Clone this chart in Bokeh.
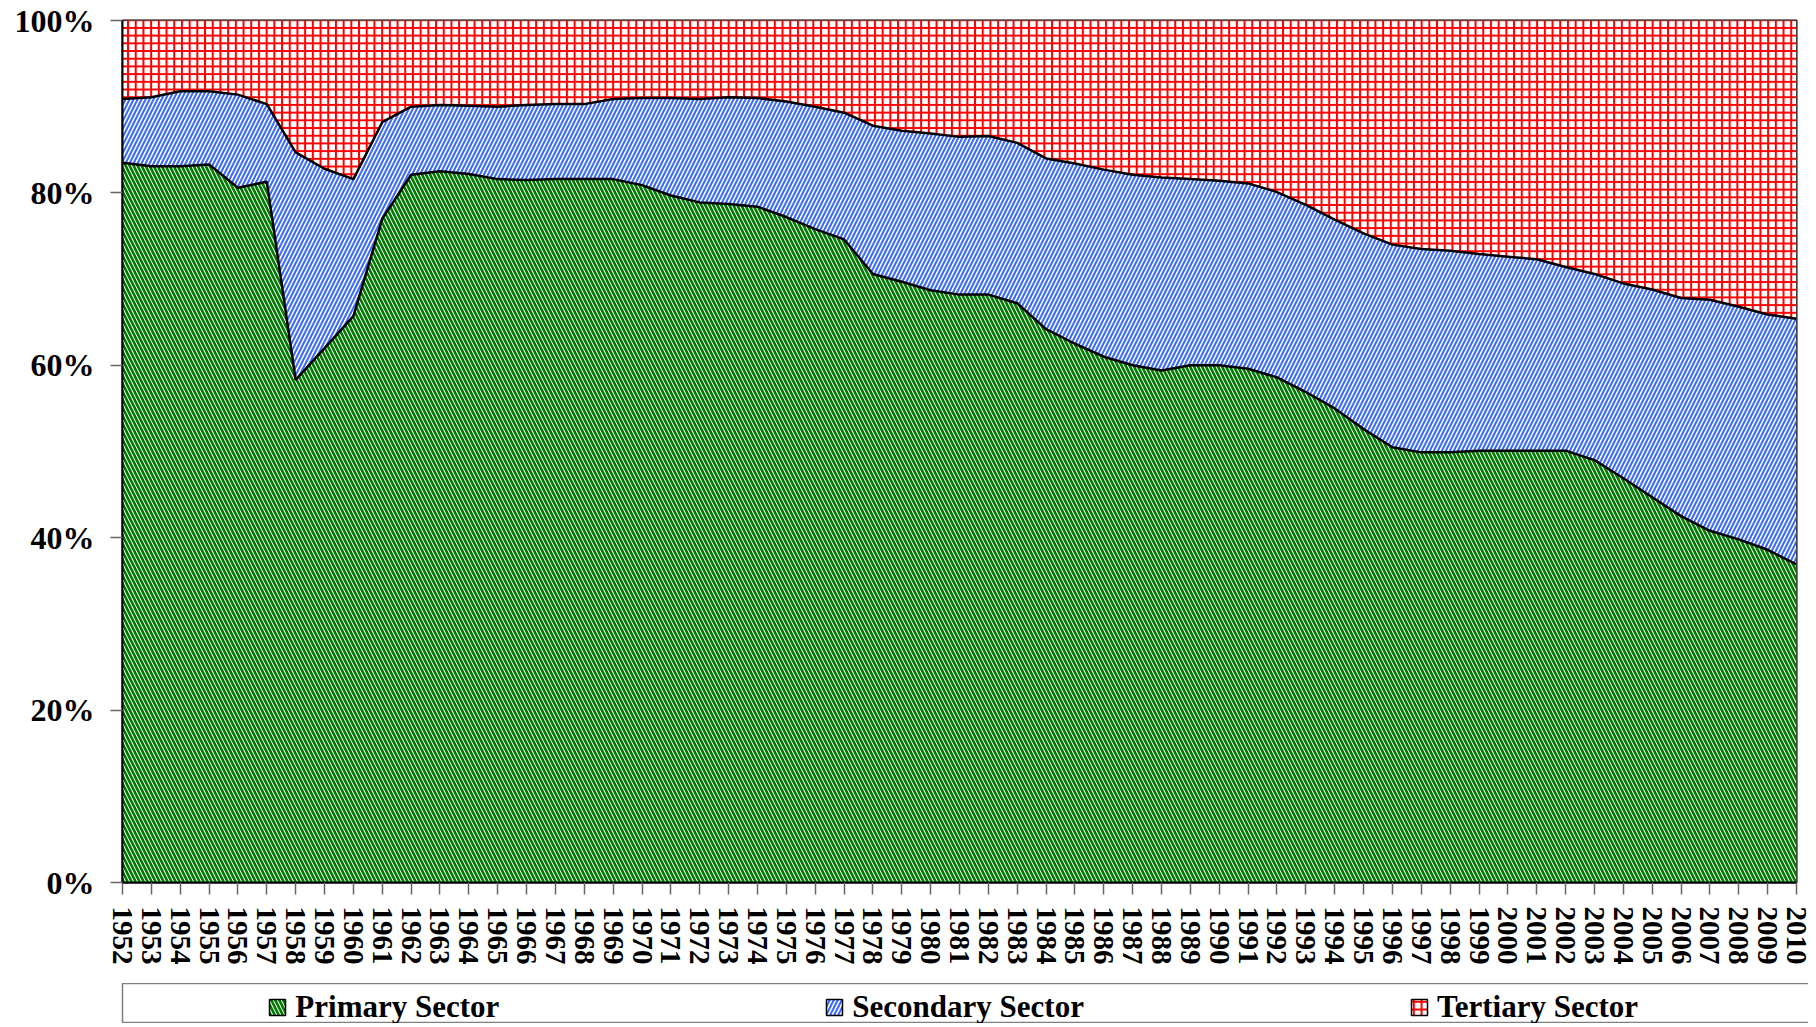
from bokeh.plotting import figure
from bokeh.models import ColumnDataSource, FixedTicker, NumeralTickFormatter, Legend, LegendItem, Range1d
from bokeh.layouts import column
from bokeh.transform import stack
from bokeh.embed import file_html
from bokeh.resources import INLINE

years = list(range(1952, 2011))

primary = [83.5, 83.1, 83.1, 83.3, 80.6, 81.3, 58.3, 62.0, 65.7, 77.0,
           82.1, 82.5, 82.2, 81.6, 81.5, 81.6, 81.6, 81.6, 80.9, 79.7,
           78.9, 78.7, 78.4, 77.2, 75.8, 74.6, 70.6, 69.7, 68.7, 68.2,
           68.2, 67.2, 64.2, 62.5, 61.0, 60.0, 59.4, 60.0, 60.0, 59.6,
           58.6, 56.9, 55.0, 52.6, 50.5, 49.9, 49.9, 50.1, 50.1, 50.1,
           50.1, 49.0, 46.9, 44.7, 42.5, 40.8, 39.8, 38.6, 36.9]

secondary = [7.4, 8.0, 8.7, 8.5, 10.8, 9.0, 26.4, 20.8, 15.9, 11.2,
             7.9, 7.7, 7.9, 8.4, 8.7, 8.7, 8.7, 9.3, 10.1, 11.3,
             12.0, 12.4, 12.6, 13.4, 14.2, 14.7, 17.2, 17.5, 18.2, 18.3,
             18.4, 18.6, 19.8, 20.9, 21.7, 22.1, 22.4, 21.6, 21.4, 21.5,
             21.5, 21.7, 21.9, 22.7, 23.5, 23.6, 23.4, 22.8, 22.5, 22.2,
             21.3, 21.6, 22.6, 24.1, 25.3, 26.8, 27.0, 27.3, 28.5]

tertiary = [9.1, 8.9, 8.2, 8.2, 8.6, 9.7, 15.3, 17.2, 18.4, 11.8,
            10.0, 9.8, 9.9, 10.0, 9.8, 9.7, 9.7, 9.1, 9.0, 9.0,
            9.1, 8.9, 9.0, 9.4, 10.0, 10.7, 12.2, 12.8, 13.1, 13.5,
            13.4, 14.2, 16.0, 16.6, 17.3, 17.9, 18.2, 18.4, 18.6, 18.9,
            19.9, 21.4, 23.1, 24.7, 26.0, 26.5, 26.7, 27.1, 27.4, 27.7,
            28.6, 29.4, 30.5, 31.2, 32.2, 32.4, 33.2, 34.1, 34.6]

series_names = ["Primary Sector", "Secondary Sector", "Tertiary Sector"]
y_ticks = [0, 0.2, 0.4, 0.6, 0.8, 1.0]

totals = [a + b + c for a, b, c in zip(primary, secondary, tertiary)]
src = ColumnDataSource(dict(
    year=years,
    primary=[a / t for a, t in zip(primary, totals)],
    secondary=[b / t for b, t in zip(secondary, totals)],
    tertiary=[c / t for c, t in zip(tertiary, totals)],
))

FONT = "Liberation Serif"
GREEN = "#007A00"
BLUE = "#3D6BFF"
RED = "#FF0000"

styles = [
    dict(hatch_pattern="\\", hatch_color=GREEN, hatch_scale=8, hatch_weight=2.6),
    dict(hatch_pattern="/", hatch_color=BLUE, hatch_scale=8, hatch_weight=2.1),
    dict(hatch_pattern="+", hatch_color=RED, hatch_scale=7.7, hatch_weight=2),
]
bounds = [
    (0, stack("primary")),
    (stack("primary"), stack("primary", "secondary")),
    (stack("primary", "secondary"), stack("primary", "secondary", "tertiary")),
]

p = figure(frame_width=1674, frame_height=862,
           x_range=Range1d(1952, 2010), y_range=Range1d(0, 1),
           output_backend="svg", toolbar_location=None,
           min_border_left=122, min_border_right=18,
           min_border_top=20, min_border_bottom=101)

for (lo, hi), st in zip(bounds, styles):
    p.varea(x="year", y1=lo, y2=hi, source=src, fill_color="white", **st)

p.line(x="year", y=stack("primary"), source=src, line_color="black", line_width=2.5)
p.line(x="year", y=stack("primary", "secondary"), source=src, line_color="black", line_width=2.5)

p.xgrid.visible = False
p.ygrid.visible = False
p.outline_line_color = "black"
p.outline_line_width = 2
p.background_fill_color = "white"

p.xaxis.ticker = FixedTicker(ticks=years)
p.xaxis.major_label_orientation = "vertical"
p.yaxis.ticker = FixedTicker(ticks=y_ticks)
p.yaxis.formatter = NumeralTickFormatter(format="0%")

for ax in (p.xaxis[0], p.yaxis[0]):
    ax.axis_line_color = "black"
    ax.axis_line_width = 2
    ax.major_tick_in = 0
    ax.major_tick_out = 12
    ax.major_tick_line_color = "#666666"
    ax.major_tick_line_width = 1.5
    ax.minor_tick_line_color = None
    ax.major_label_text_font = FONT
    ax.major_label_text_font_style = "bold"
    ax.major_label_text_color = "black"

p.yaxis.major_label_text_font_size = "32px"
p.yaxis.major_label_standoff = 16
p.xaxis.major_label_text_font_size = "29px"
p.xaxis.major_label_standoff = 12

# legend strip (its proxy bars fall outside its visible range)
p2 = figure(frame_width=1699, frame_height=40,
            x_range=Range1d(0, 1), y_range=Range1d(0, 1),
            output_backend="svg", toolbar_location=None,
            min_border_left=105, min_border_right=4,
            min_border_top=0, min_border_bottom=0,
            x_axis_type=None, y_axis_type=None)
p2.xgrid.visible = False
p2.ygrid.visible = False
p2.outline_line_color = "#808080"
p2.outline_line_width = 1.5

items = []
for name, (lo, hi), st in zip(series_names, bounds, styles):
    r = p2.vbar(x="year", bottom=lo, top=hi, width=0.8, source=src,
                fill_color="white", line_color="black", line_width=1.5, **st)
    items.append(LegendItem(label=name, renderers=[r]))

legend = Legend(items=items, orientation="horizontal", location=(231, -2),
                spacing=325, padding=0, margin=0,
                border_line_color=None, background_fill_alpha=0,
                label_text_font=FONT, label_text_font_style="bold",
                label_text_font_size="31px", label_text_color="black",
                glyph_width=20, glyph_height=20, label_standoff=8)
p2.add_layout(legend, "center")

layout = column(p, p2, spacing=0)

open("out.html", "w").write(file_html(layout, INLINE))
